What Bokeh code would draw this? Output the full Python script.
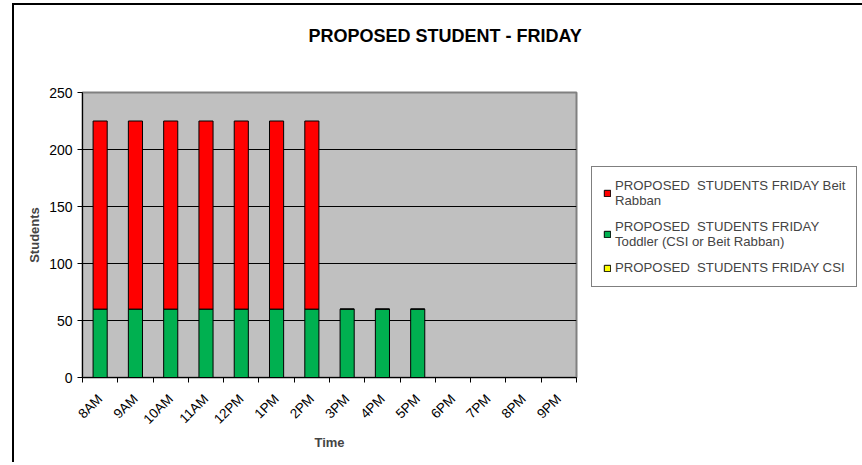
import math
from bokeh.plotting import figure
from bokeh.models import (ColumnDataSource, FixedTicker, Legend, LegendItem,
                          Range1d, Title)
from bokeh.embed import file_html
from bokeh.resources import INLINE

# ---- data ----
times = ["8AM", "9AM", "10AM", "11AM", "12PM", "1PM", "2PM",
         "3PM", "4PM", "5PM", "6PM", "7PM", "8PM", "9PM"]
csi = [0, 0, 0, 0, 0, 0, 0, 0, 0, 0, 0, 0, 0, 0]
toddler = [60, 60, 60, 60, 60, 60, 60, 60, 60, 60, 0, 0, 0, 0]
beit_rabban = [165, 165, 165, 165, 165, 165, 165, 0, 0, 0, 0, 0, 0, 0]
y_ticks = [0, 50, 100, 150, 200, 250]
label_csi = "PROPOSED  STUDENTS FRIDAY CSI"
label_toddler = "PROPOSED  STUDENTS FRIDAY\nToddler (CSI or Beit Rabban)"
label_beit = "PROPOSED  STUDENTS FRIDAY Beit\nRabban"
title_text = "PROPOSED STUDENT - FRIDAY"

FONT = "Liberation Sans"

xs = [i + 0.5 for i in range(len(times))]
source = ColumnDataSource(dict(x=xs, csi=csi, toddler=toddler, beit=beit_rabban))

p = figure(frame_width=494, frame_height=285, output_backend="svg",
           toolbar_location=None, title=None,
           x_range=Range1d(0, len(times)), y_range=Range1d(0, 250),
           min_border_left=68, min_border_top=85,
           min_border_right=279, min_border_bottom=85,
           background_fill_color="#C0C0C0", border_fill_color="white",
           styles={"margin-left": "12px", "margin-top": "3px",
                   "border-left": "2px solid black",
                   "border-top": "2px solid black"})

# spacer (nearest the frame) then the real title
p.add_layout(Title(text=" ", standoff=11, text_font=FONT,
                   text_font_size="13px"), "above")
p.add_layout(Title(text=title_text, align="left", offset=226, standoff=37,
                   text_font=FONT, text_font_size="18px",
                   text_font_style="bold", text_color="black"), "above")

rs = p.vbar_stack(["csi", "toddler", "beit"], x="x", width=0.4, source=source,
                  fill_color=["#FFFF00", "#00B050", "#FF0000"],
                  line_color="black", line_width=1)

p.outline_line_color = "#808080"
p.outline_line_width = 2

# grid
p.xgrid.visible = False
p.ygrid.grid_line_color = "black"
p.ygrid.grid_line_width = 1
p.ygrid.ticker = FixedTicker(ticks=y_ticks)

# x axis
xa = p.xaxis[0]
xa.ticker = FixedTicker(ticks=xs, minor_ticks=list(range(len(times) + 1)))
xa.major_label_overrides = {x: t for x, t in zip(xs, times)}
xa.major_tick_in = 0
xa.major_tick_out = 0
xa.minor_tick_in = 0
xa.minor_tick_out = 5
xa.minor_tick_line_color = "black"
xa.axis_line_color = "black"
xa.major_label_orientation = math.pi / 4
xa.major_label_standoff = 14
xa.major_label_text_font = FONT
xa.major_label_text_font_size = "13.5px"
xa.major_label_text_color = "black"
xa.axis_label = "Time"
xa.axis_label_text_font = FONT
xa.axis_label_text_font_size = "13px"
xa.axis_label_text_font_style = "bold"
xa.axis_label_standoff = 0

# y axis
ya = p.yaxis[0]
ya.ticker = FixedTicker(ticks=y_ticks)
ya.major_tick_in = 0
ya.major_tick_out = 5
ya.minor_tick_line_color = None
ya.axis_line_color = "black"
ya.major_tick_line_color = "black"
ya.major_label_standoff = 5
ya.major_label_text_font = FONT
ya.major_label_text_font_size = "14px"
ya.major_label_text_color = "black"
ya.axis_label = "Students"
ya.axis_label_text_font = FONT
ya.axis_label_text_font_size = "13px"
ya.axis_label_text_font_style = "bold"
ya.axis_label_standoff = 4

legend = Legend(items=[LegendItem(label=label_beit, renderers=[rs[2]]),
                       LegendItem(label=label_toddler, renderers=[rs[1]]),
                       LegendItem(label=label_csi, renderers=[rs[0]])],
                location=(15, 90), margin=0, padding=11, spacing=11,
                glyph_width=8, glyph_height=8, label_standoff=4,
                label_text_font=FONT, label_text_font_size="13.2px",
                border_line_color="black", border_line_width=1,
                background_fill_color="white")
p.add_layout(legend, "right")

open("out.html", "w").write(file_html(p, INLINE))
